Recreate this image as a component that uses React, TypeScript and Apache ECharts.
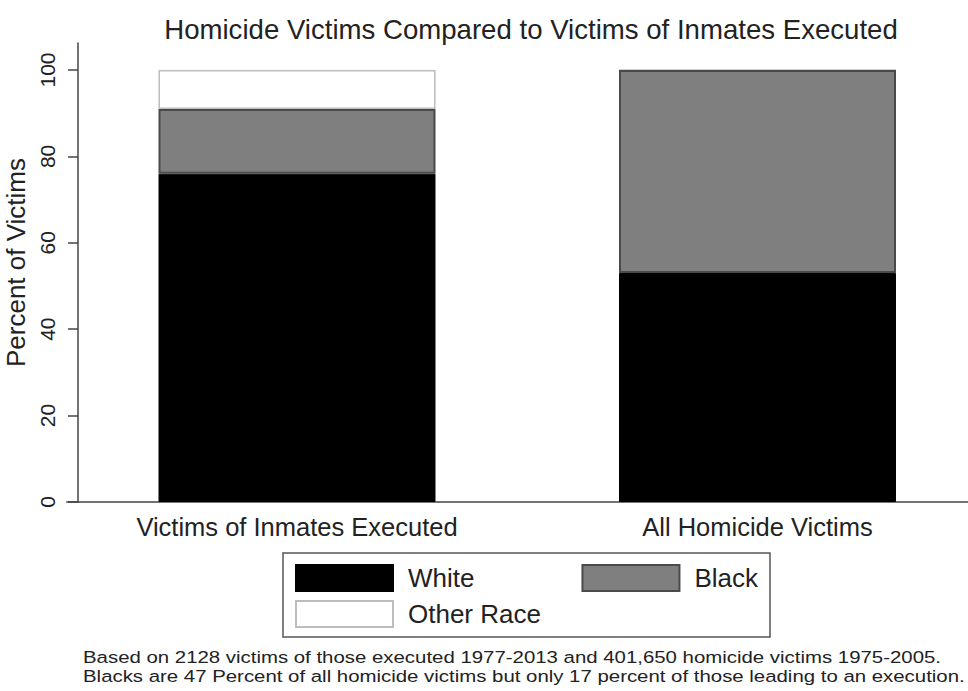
import React, { useEffect, useRef } from "react";
import * as echarts from "echarts";

const categories = ["Victims of Inmates Executed", "All Homicide Victims"];
const whiteVictims = [76, 53];
const blackVictims = [15, 47];
const otherRaceVictims = [9, 0];
const yTicks = [0, 20, 40, 60, 80, 100];
const titleText = "Homicide Victims Compared to Victims of Inmates Executed";
const yAxisTitle = "Percent of Victims";
const captionLines = [
  "Based on 2128 victims of those executed 1977-2013 and 401,650 homicide victims 1975-2005.",
  "Blacks are 47 Percent of all homicide victims but only 17 percent of those leading to an execution.",
];

const FONT = "'Liberation Sans', Arial, Helvetica, sans-serif";

export default function App() {
  const ref = useRef<HTMLDivElement>(null);

  useEffect(() => {
    if (!ref.current) return;
    const chart = echarts.init(ref.current, null, { renderer: "svg" });
    const legendText = { fontFamily: FONT, fontSize: 26, color: "#222", padding: [0, 0, 0, 10] };
    const option: any = {
      animation: false,
      backgroundColor: "#ffffff",
      textStyle: { fontFamily: FONT },
      title: {
        text: titleText,
        left: 526,
        top: 10,
        textAlign: "center",
        textStyle: { fontFamily: FONT, fontSize: 27.6, fontWeight: "normal", color: "#222" },
      },
      grid: {
        left: 66.75,
        top: 43,
        width: 921,
        height: 459,
        containLabel: false,
        outerBoundsMode: "none",
      },
      xAxis: {
        type: "category",
        data: categories,
        axisLine: { show: true, lineStyle: { color: "#444", width: 1.5 } },
        axisTick: { show: false },
        axisLabel: { fontFamily: FONT, fontSize: 25.5, color: "#222", margin: 12 },
        splitLine: { show: false },
      },
      yAxis: {
        type: "value",
        min: 0,
        max: 106.25,
        interval: 20,
        offset: -11.25,
        name: yAxisTitle,
        nameLocation: "middle",
        nameGap: 46,
        nameTextStyle: { fontFamily: FONT, fontSize: 26, color: "#222", padding: [0, 0, 0, 20] },
        axisLine: { show: true, lineStyle: { color: "#444", width: 1.5 } },
        axisTick: { show: true, length: 10, customValues: yTicks, lineStyle: { color: "#444", width: 1.5 } },
        axisLabel: { fontFamily: FONT, fontSize: 21, color: "#222", rotate: 90, margin: 20, customValues: yTicks },
        splitLine: { show: false },
      },
      legend: [
        {
          left: 295,
          top: 564,
          orient: "horizontal",
          padding: 0,
          itemWidth: 97,
          itemHeight: 26,
          itemGap: 107,
          icon: "rect",
          selectedMode: false,
          textStyle: legendText,
          data: ["White", "Black"],
        },
        {
          left: 295,
          top: 600,
          orient: "horizontal",
          padding: 0,
          itemWidth: 97,
          itemHeight: 26,
          itemGap: 10,
          icon: "rect",
          selectedMode: false,
          textStyle: legendText,
          data: ["Other Race"],
        },
      ],
      graphic: [
        {
          type: "rect",
          shape: { x: 283, y: 553, width: 487, height: 84 },
          style: { fill: "none", stroke: "#555", lineWidth: 1.5 },
          silent: true,
        },
        {
          type: "text",
          x: 83,
          y: 648,
          scaleX: 1.2,
          style: {
            text: captionLines.join("\n"),
            fontFamily: FONT,
            fontSize: 17,
            lineHeight: 19,
            fill: "#222",
          },
        },
      ],
      series: [
        {
          name: "White",
          type: "bar",
          stack: "total",
          barWidth: 277,
          data: whiteVictims,
          itemStyle: { color: "#000000", borderColor: "#000000", borderWidth: 1 },
        },
        {
          name: "Black",
          type: "bar",
          stack: "total",
          barWidth: 277,
          data: blackVictims,
          z: 3,
          itemStyle: { color: "#7f7f7f", borderColor: "#4a4a4a", borderWidth: 2 },
        },
        {
          name: "Other Race",
          type: "bar",
          stack: "total",
          barWidth: 277,
          data: otherRaceVictims,
          z: 2,
          itemStyle: { color: "#ffffff", borderColor: "#bdbdbd", borderWidth: 1.5 },
        },
      ],
    };
    chart.setOption(option);
    return () => chart.dispose();
  }, []);

  return (
    <div
      ref={ref}
      style={{ position: "absolute", left: 0, top: 0, width: 968, height: 691 }}
    />
  );
}
